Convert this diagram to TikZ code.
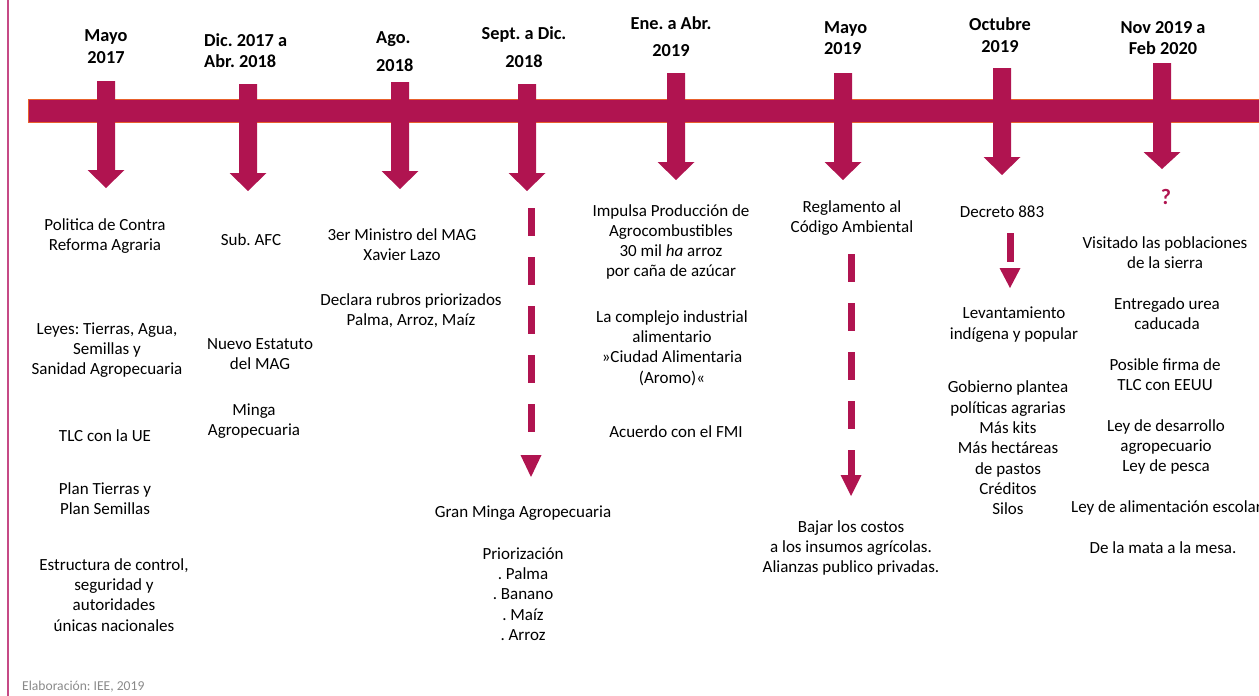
\documentclass[tikz,border=0pt]{standalone}
\usepackage{fontspec}
\setmainfont{Carlito}
\frenchspacing
\definecolor{mag}{HTML}{B01450}
\definecolor{barline}{HTML}{E8602C}
\definecolor{framec}{HTML}{C64A86}
\definecolor{footc}{HTML}{8A8A8A}
\begin{document}
\frenchspacing
\begin{tikzpicture}[x=1pt,y=-1pt,
  txt/.style={font=\fontsize{17}{20.3}\selectfont, align=center, inner sep=0pt, text=black},
  hd/.style={font=\bfseries\fontsize{18.3}{21.5}\selectfont, align=center, inner sep=0pt, text=black},
  hdl/.style={hd, align=left, anchor=west}]
\useasboundingbox (0,0) rectangle (1259,696);
\clip (0,0) rectangle (1259,696);
% frame line
\draw[framec, line width=2pt] (8,0) -- (8,696);
% bar
\draw[fill=mag, draw=barline, line width=0.8pt] (28,99.5) rectangle (1275,122.5);
% big arrows
\foreach \x/\t/\h/\p in {106/81/170/188, 248/84/173/191, 400/82/171/189, 527/84/173/191,
    676/73/162/180, 843/73/162/180, 1002/68/157/175, 1162/63/152/169}{
  \fill[mag] ({\x-9},\t) -- ({\x+9},\t) -- ({\x+9},\h) -- ({\x+18.5},\h) -- (\x,\p)
     -- ({\x-18.5},\h) -- ({\x-9},\h) -- cycle;
}
% dashed arrows
\draw[mag, line width=7pt, dash pattern=on 28pt off 21pt] (531,208) -- (531,432);
\fill[mag] (520.5,455) -- (541.5,455) -- (531,477) -- cycle;
\draw[mag, line width=7pt, dash pattern=on 28pt off 21pt] (851,254) -- (851,476);
\fill[mag] (840.5,475) -- (861.5,475) -- (851,496) -- cycle;
\draw[mag, line width=7pt] (1010,233) -- (1010,262);
\fill[mag] (999.5,268) -- (1020.5,268) -- (1010,288) -- cycle;
% headers
\node[hd] (h1) at (106,46.5) {Mayo\\2017};
\node[hdl] (h2) at (204,50.5) {Dic. 2017 a\\Abr. 2018};
\node[hdl] (h3) at (376,52) {Ago.\\[6.5pt]2018};
\node[hd] (h4) at (524,47) {Sept. a Dic.\\[6.5pt]2018};
\node[hd] (h5) at (671,36.5) {Ene. a Abr.\\[5.5pt]2019};
\node[hdl] (h6) at (824,38) {Mayo\\2019};
\node[hd] (h7) at (1000,35) {Octubre\\2019};
\node[hd] (h8) at (1163,38) {Nov 2019 a\\Feb 2020};
% column 1
\node[txt] (a1) at (105,236) {Politica de Contra\\Reforma Agraria};
\node[txt] (a2) at (107,350) {Leyes: Tierras, Agua,\\Semillas y\\Sanidad Agropecuaria};
\node[txt] (a3) at (105,436) {TLC con la UE};
\node[txt] (a4) at (105,499) {Plan Tierras y\\Plan Semillas};
\node[txt] (a5) at (114,595) {Estructura de control,\\seguridad y\\autoridades\\únicas nacionales};
% column 2
\node[txt] (b1) at (251,240) {Sub. AFC};
\node[txt] (b2) at (260,354) {Nuevo Estatuto\\del MAG};
\node[txt] (b3) at (254,421) {Minga\\Agropecuaria};
% column 3
\node[txt] (c1) at (402,245) {3er Ministro del MAG\\Xavier Lazo};
\node[txt] (c2) at (411,311) {Declara rubros priorizados\\Palma, Arroz, Maíz};
% column 4
\node[txt] (d1) at (523,513) {Gran Minga Agropecuaria};
\node[txt] (d2) at (523,594) {Priorización\\. Palma\\. Banano\\. Maíz\\. Arroz};
% column 5
\node[txt] (e1) at (671,242) {Impulsa Producción de\\Agrocombustibles\\30 mil \textit{ha} arroz\\por caña de azúcar};
\node[txt] (e2) at (672,348) {La complejo industrial\\alimentario\\»Ciudad Alimentaria\\(Aromo)«};
\node[txt] (e3) at (676,432) {Acuerdo con el FMI};
% column 6
\node[txt] (f1) at (852,218) {Reglamento al\\Código Ambiental};
\node[txt] (f2) at (851,548) {Bajar los costos\\a los insumos agrícolas.\\Alianzas publico privadas.};
% column 7
\node[txt] (g1) at (1002,212) {Decreto 883};
\node[txt] (g2) at (1014,324.5) {Levantamiento\\indígena y popular};
\node[txt] (g3) at (1008,448) {Gobierno plantea\\políticas agrarias\\Más kits\\Más hectáreas\\de pastos\\Créditos\\Silos};
% column 8
\node[font=\bfseries\fontsize{22}{24}\selectfont, text=mag, inner sep=0pt] (q) at (1166,197) {?};
\node[txt] (k1) at (1165,253) {Visitado las poblaciones\\de la sierra};
\node[txt] (k2) at (1167,314) {Entregado urea\\caducada};
\node[txt] (k3) at (1165,375) {Posible firma de\\TLC con EEUU};
\node[txt] (k4) at (1166,447) {Ley de desarrollo\\agropecuario\\Ley de pesca};
\node[txt, anchor=west] (k5) at (1071,508) {Ley de alimentación escolar};
\node[txt] (k6) at (1163,548) {De la mata a la mesa.};
% footer
\node[font=\fontsize{13.6}{15}\selectfont, text=footc, anchor=west, inner sep=0pt] (foot) at (22,687) {Elaboración: IEE, 2019};
\end{tikzpicture}
\end{document}
